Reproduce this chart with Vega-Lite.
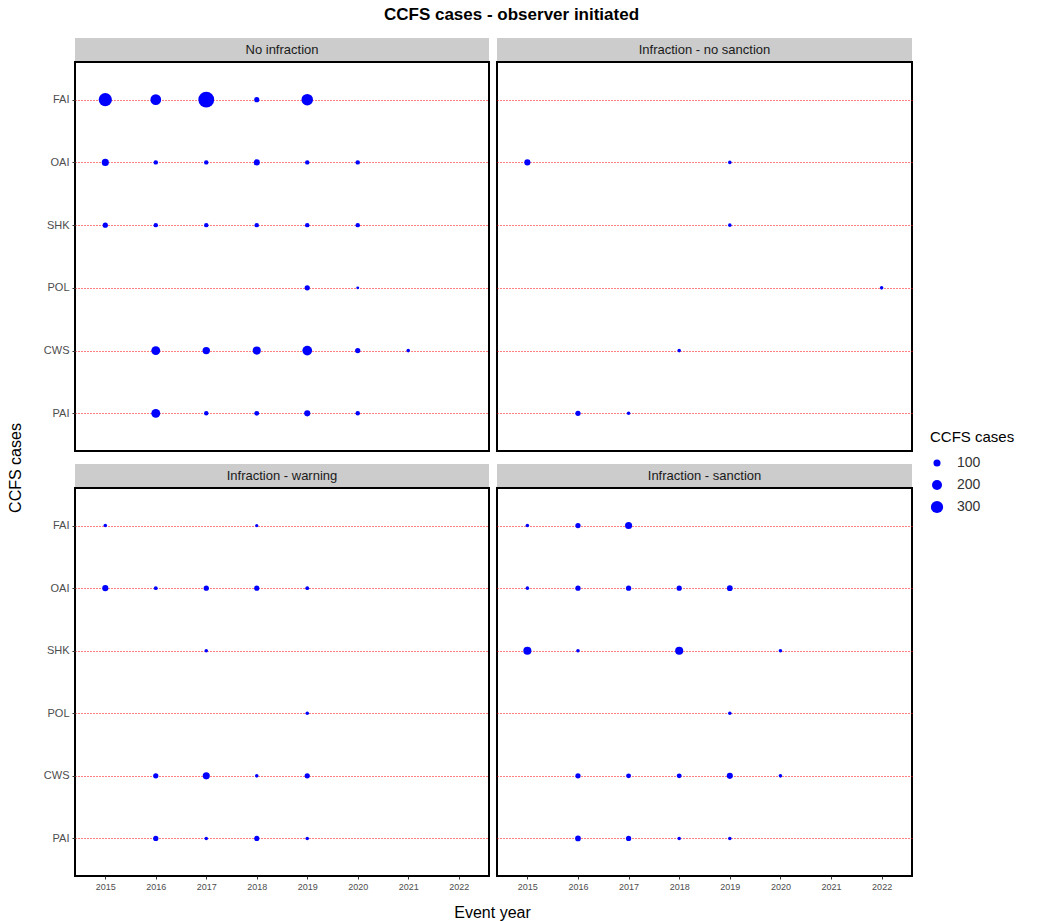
{
  "$schema": "https://vega.github.io/schema/vega-lite/v6.json",
  "background": "white",
  "padding": {"left": 8, "top": 6, "right": 5, "bottom": 4},
  "title": {"text": "CCFS cases - observer initiated", "font": "Liberation Sans", "fontSize": 17, "fontWeight": "bold", "color": "black", "anchor": "middle", "offset": 14},
  "config": {
    "font": "Liberation Sans",
    "view": {"stroke": "black", "strokeWidth": 2},
    "axis": {"domain": false, "tickColor": "#333333", "tickSize": 3, "tickWidth": 1, "labelColor": "#4d4d4d", "labelFont": "Liberation Sans", "title": null, "gridColor": "#ff0000", "gridDash": [1, 2], "gridWidth": 1},
    "legend": {"titleFontSize": 15, "titleFontWeight": "normal", "titleColor": "black", "labelFontSize": 14, "labelColor": "#333333", "symbolType": "circle", "symbolStrokeWidth": 0, "rowPadding": 8, "labelOffset": 13, "titlePadding": 11}
  },
  "datasets": {
    "pts": [
      {"panel": "No infraction", "code": "FAI", "year": 2015, "n": 350},
      {"panel": "No infraction", "code": "FAI", "year": 2016, "n": 230},
      {"panel": "No infraction", "code": "FAI", "year": 2017, "n": 500},
      {"panel": "No infraction", "code": "FAI", "year": 2018, "n": 55},
      {"panel": "No infraction", "code": "FAI", "year": 2019, "n": 265},
      {"panel": "No infraction", "code": "OAI", "year": 2015, "n": 100},
      {"panel": "No infraction", "code": "OAI", "year": 2016, "n": 40},
      {"panel": "No infraction", "code": "OAI", "year": 2017, "n": 40},
      {"panel": "No infraction", "code": "OAI", "year": 2018, "n": 75},
      {"panel": "No infraction", "code": "OAI", "year": 2019, "n": 40},
      {"panel": "No infraction", "code": "OAI", "year": 2020, "n": 40},
      {"panel": "No infraction", "code": "SHK", "year": 2015, "n": 55},
      {"panel": "No infraction", "code": "SHK", "year": 2016, "n": 40},
      {"panel": "No infraction", "code": "SHK", "year": 2017, "n": 40},
      {"panel": "No infraction", "code": "SHK", "year": 2018, "n": 40},
      {"panel": "No infraction", "code": "SHK", "year": 2019, "n": 40},
      {"panel": "No infraction", "code": "SHK", "year": 2020, "n": 40},
      {"panel": "No infraction", "code": "POL", "year": 2019, "n": 55},
      {"panel": "No infraction", "code": "POL", "year": 2020, "n": 17},
      {"panel": "No infraction", "code": "CWS", "year": 2016, "n": 160},
      {"panel": "No infraction", "code": "CWS", "year": 2017, "n": 110},
      {"panel": "No infraction", "code": "CWS", "year": 2018, "n": 130},
      {"panel": "No infraction", "code": "CWS", "year": 2019, "n": 190},
      {"panel": "No infraction", "code": "CWS", "year": 2020, "n": 55},
      {"panel": "No infraction", "code": "CWS", "year": 2021, "n": 25},
      {"panel": "No infraction", "code": "PAI", "year": 2016, "n": 160},
      {"panel": "No infraction", "code": "PAI", "year": 2017, "n": 40},
      {"panel": "No infraction", "code": "PAI", "year": 2018, "n": 48},
      {"panel": "No infraction", "code": "PAI", "year": 2019, "n": 75},
      {"panel": "No infraction", "code": "PAI", "year": 2020, "n": 40},
      {"panel": "Infraction - no sanction", "code": "OAI", "year": 2015, "n": 75},
      {"panel": "Infraction - no sanction", "code": "OAI", "year": 2019, "n": 25},
      {"panel": "Infraction - no sanction", "code": "SHK", "year": 2019, "n": 25},
      {"panel": "Infraction - no sanction", "code": "POL", "year": 2022, "n": 25},
      {"panel": "Infraction - no sanction", "code": "CWS", "year": 2018, "n": 25},
      {"panel": "Infraction - no sanction", "code": "PAI", "year": 2016, "n": 55},
      {"panel": "Infraction - no sanction", "code": "PAI", "year": 2017, "n": 25},
      {"panel": "Infraction - warning", "code": "FAI", "year": 2015, "n": 25},
      {"panel": "Infraction - warning", "code": "FAI", "year": 2018, "n": 20},
      {"panel": "Infraction - warning", "code": "OAI", "year": 2015, "n": 75},
      {"panel": "Infraction - warning", "code": "OAI", "year": 2016, "n": 30},
      {"panel": "Infraction - warning", "code": "OAI", "year": 2017, "n": 55},
      {"panel": "Infraction - warning", "code": "OAI", "year": 2018, "n": 55},
      {"panel": "Infraction - warning", "code": "OAI", "year": 2019, "n": 30},
      {"panel": "Infraction - warning", "code": "SHK", "year": 2017, "n": 25},
      {"panel": "Infraction - warning", "code": "POL", "year": 2019, "n": 25},
      {"panel": "Infraction - warning", "code": "CWS", "year": 2016, "n": 55},
      {"panel": "Infraction - warning", "code": "CWS", "year": 2017, "n": 100},
      {"panel": "Infraction - warning", "code": "CWS", "year": 2018, "n": 25},
      {"panel": "Infraction - warning", "code": "CWS", "year": 2019, "n": 55},
      {"panel": "Infraction - warning", "code": "PAI", "year": 2016, "n": 55},
      {"panel": "Infraction - warning", "code": "PAI", "year": 2017, "n": 25},
      {"panel": "Infraction - warning", "code": "PAI", "year": 2018, "n": 55},
      {"panel": "Infraction - warning", "code": "PAI", "year": 2019, "n": 25},
      {"panel": "Infraction - sanction", "code": "FAI", "year": 2015, "n": 25},
      {"panel": "Infraction - sanction", "code": "FAI", "year": 2016, "n": 55},
      {"panel": "Infraction - sanction", "code": "FAI", "year": 2017, "n": 100},
      {"panel": "Infraction - sanction", "code": "OAI", "year": 2015, "n": 25},
      {"panel": "Infraction - sanction", "code": "OAI", "year": 2016, "n": 55},
      {"panel": "Infraction - sanction", "code": "OAI", "year": 2017, "n": 55},
      {"panel": "Infraction - sanction", "code": "OAI", "year": 2018, "n": 55},
      {"panel": "Infraction - sanction", "code": "OAI", "year": 2019, "n": 65},
      {"panel": "Infraction - sanction", "code": "SHK", "year": 2015, "n": 130},
      {"panel": "Infraction - sanction", "code": "SHK", "year": 2016, "n": 25},
      {"panel": "Infraction - sanction", "code": "SHK", "year": 2018, "n": 130},
      {"panel": "Infraction - sanction", "code": "SHK", "year": 2020, "n": 25},
      {"panel": "Infraction - sanction", "code": "POL", "year": 2019, "n": 25},
      {"panel": "Infraction - sanction", "code": "CWS", "year": 2016, "n": 55},
      {"panel": "Infraction - sanction", "code": "CWS", "year": 2017, "n": 48},
      {"panel": "Infraction - sanction", "code": "CWS", "year": 2018, "n": 48},
      {"panel": "Infraction - sanction", "code": "CWS", "year": 2019, "n": 75},
      {"panel": "Infraction - sanction", "code": "CWS", "year": 2020, "n": 25},
      {"panel": "Infraction - sanction", "code": "PAI", "year": 2016, "n": 65},
      {"panel": "Infraction - sanction", "code": "PAI", "year": 2017, "n": 55},
      {"panel": "Infraction - sanction", "code": "PAI", "year": 2018, "n": 25},
      {"panel": "Infraction - sanction", "code": "PAI", "year": 2019, "n": 25}
    ]
  },
  "hconcat": [
    {
      "data": {"values": [{"t": "CCFS cases"}]},
      "width": 14,
      "height": 860,
      "view": {"stroke": null},
      "mark": {"type": "text", "angle": 270, "fontSize": 16, "color": "black", "font": "Liberation Sans"},
      "encoding": {"text": {"field": "t"}}
    },
    {
      "vconcat": [
        {
          "hconcat": [
            {
              "vconcat": [
                {
                  "data": {"values": [{"t": "No infraction"}]},
                  "width": 414, "height": 23,
                  "view": {"stroke": null, "fill": "#cccccc"},
                  "mark": {"type": "text", "fontSize": 13, "color": "#1a1a1a"},
                  "encoding": {"text": {"field": "t"}}
                },
                {
                  "data": {"name": "pts"},
                  "transform": [{"filter": "datum.panel === 'No infraction'"}],
                  "width": 414, "height": 389,
                  "mark": {"type": "circle", "color": "#0000ff", "opacity": 1},
                  "encoding": {
                    "x": {"field": "year", "type": "ordinal", "scale": {"type": "point", "padding": 0.6, "domain": [2015, 2016, 2017, 2018, 2019, 2020, 2021, 2022]}, "axis": null},
                    "y": {"field": "code", "type": "nominal", "scale": {"type": "point", "padding": 0.6, "domain": ["FAI", "OAI", "SHK", "POL", "CWS", "PAI"]}, "axis": {"grid": true, "labelFontSize": 11, "labelPadding": 3}},
                    "size": {"field": "n", "type": "quantitative", "scale": {"domain": [0, 500], "range": [0, 250]}, "legend": {"title": "CCFS cases", "values": [100, 200, 300], "orient": "none", "legendX": 921, "legendY": 392}}
                  }
                }
              ],
              "spacing": 0
            },
            {
              "vconcat": [
                {
                  "data": {"values": [{"t": "Infraction - no sanction"}]},
                  "width": 415, "height": 23,
                  "view": {"stroke": null, "fill": "#cccccc"},
                  "mark": {"type": "text", "fontSize": 13, "color": "#1a1a1a"},
                  "encoding": {"text": {"field": "t"}}
                },
                {
                  "data": {"name": "pts"},
                  "transform": [{"filter": "datum.panel === 'Infraction - no sanction'"}],
                  "width": 415, "height": 389,
                  "mark": {"type": "circle", "color": "#0000ff", "opacity": 1},
                  "encoding": {
                    "x": {"field": "year", "type": "ordinal", "scale": {"type": "point", "padding": 0.6, "domain": [2015, 2016, 2017, 2018, 2019, 2020, 2021, 2022]}, "axis": null},
                    "y": {"field": "code", "type": "nominal", "scale": {"type": "point", "padding": 0.6, "domain": ["FAI", "OAI", "SHK", "POL", "CWS", "PAI"]}, "axis": {"grid": true, "labels": false, "ticks": false}},
                    "size": {"field": "n", "type": "quantitative", "scale": {"domain": [0, 500], "range": [0, 250]}, "legend": {"title": "CCFS cases", "values": [100, 200, 300], "orient": "none", "legendX": 921, "legendY": 392}}
                  }
                }
              ],
              "spacing": 0
            }
          ],
          "spacing": 6
        },
        {
          "hconcat": [
            {
              "vconcat": [
                {
                  "data": {"values": [{"t": "Infraction - warning"}]},
                  "width": 414, "height": 23,
                  "view": {"stroke": null, "fill": "#cccccc"},
                  "mark": {"type": "text", "fontSize": 13, "color": "#1a1a1a"},
                  "encoding": {"text": {"field": "t"}}
                },
                {
                  "data": {"name": "pts"},
                  "transform": [{"filter": "datum.panel === 'Infraction - warning'"}],
                  "width": 414, "height": 388,
                  "mark": {"type": "circle", "color": "#0000ff", "opacity": 1},
                  "encoding": {
                    "x": {"field": "year", "type": "ordinal", "scale": {"type": "point", "padding": 0.6, "domain": [2015, 2016, 2017, 2018, 2019, 2020, 2021, 2022]}, "axis": {"labelAngle": 0, "labelFontSize": 9, "labelPadding": 3, "grid": false}},
                    "y": {"field": "code", "type": "nominal", "scale": {"type": "point", "padding": 0.6, "domain": ["FAI", "OAI", "SHK", "POL", "CWS", "PAI"]}, "axis": {"grid": true, "labelFontSize": 11, "labelPadding": 3}},
                    "size": {"field": "n", "type": "quantitative", "scale": {"domain": [0, 500], "range": [0, 250]}, "legend": {"title": "CCFS cases", "values": [100, 200, 300], "orient": "none", "legendX": 921, "legendY": 392}}
                  }
                }
              ],
              "spacing": 0
            },
            {
              "vconcat": [
                {
                  "data": {"values": [{"t": "Infraction - sanction"}]},
                  "width": 415, "height": 23,
                  "view": {"stroke": null, "fill": "#cccccc"},
                  "mark": {"type": "text", "fontSize": 13, "color": "#1a1a1a"},
                  "encoding": {"text": {"field": "t"}}
                },
                {
                  "data": {"name": "pts"},
                  "transform": [{"filter": "datum.panel === 'Infraction - sanction'"}],
                  "width": 415, "height": 388,
                  "mark": {"type": "circle", "color": "#0000ff", "opacity": 1},
                  "encoding": {
                    "x": {"field": "year", "type": "ordinal", "scale": {"type": "point", "padding": 0.6, "domain": [2015, 2016, 2017, 2018, 2019, 2020, 2021, 2022]}, "axis": {"labelAngle": 0, "labelFontSize": 9, "labelPadding": 3, "grid": false}},
                    "y": {"field": "code", "type": "nominal", "scale": {"type": "point", "padding": 0.6, "domain": ["FAI", "OAI", "SHK", "POL", "CWS", "PAI"]}, "axis": {"grid": true, "labels": false, "ticks": false}},
                    "size": {"field": "n", "type": "quantitative", "scale": {"domain": [0, 500], "range": [0, 250]}, "legend": {"title": "CCFS cases", "values": [100, 200, 300], "orient": "none", "legendX": 921, "legendY": 392}}
                  }
                }
              ],
              "spacing": 0
            }
          ],
          "spacing": 6
        },
        {
          "data": {"values": [{"t": "Event year"}]},
          "width": 835, "height": 15,
          "view": {"stroke": null},
          "mark": {"type": "text", "fontSize": 16, "color": "black"},
          "encoding": {"text": {"field": "t"}}
        }
      ],
      "spacing": 12
    }
  ],
  "spacing": 18
}
